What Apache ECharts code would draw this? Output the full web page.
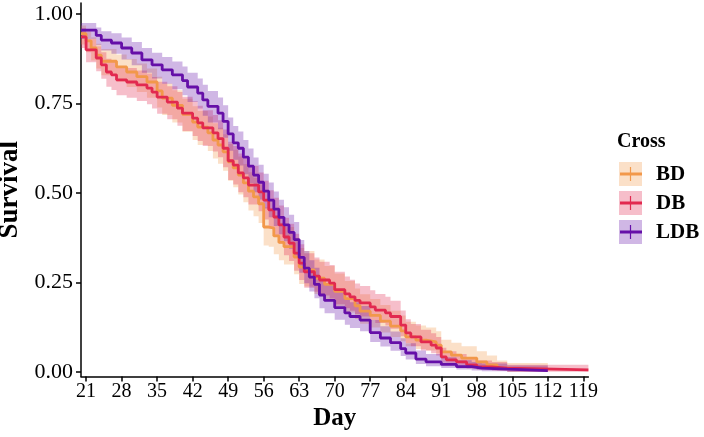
<!DOCTYPE html>
<html>
<head>
<meta charset="utf-8">
<script src="https://cdn.jsdelivr.net/npm/echarts@6/dist/echarts.min.js"></script>
<style>
  html, body { margin: 0; padding: 0; background: #fff; }
  #chart { width: 704px; height: 437px; }
</style>
</head>
<body>
<div id="chart"></div>
<script>
// tick labels
const xTicks = [21, 28, 35, 42, 49, 56, 63, 70, 77, 84, 91, 98, 105, 112, 119]
const yTicks = [0, 0.25, 0.5, 0.75, 1]
const groups = ['BD', 'DB', 'LDB']

// BD: event days, survival, lower / upper CI
const bdTime = [20, 21, 22, 23, 24, 27, 29, 31, 33, 35, 36, 38, 40, 42, 43, 45, 46, 47, 48, 49, 50, 51, 52, 53, 54, 55, 56, 57, 58, 59, 60, 62, 63, 64, 66, 68, 70, 72, 74, 75, 77, 79, 81, 83, 84, 86, 88, 90, 91, 93, 95, 98, 100, 102, 104, 112]
const bdSurv = [0.945, 0.925, 0.905, 0.885, 0.868, 0.852, 0.838, 0.825, 0.810, 0.785, 0.765, 0.745, 0.720, 0.698, 0.684, 0.668, 0.648, 0.634, 0.615, 0.587, 0.570, 0.550, 0.528, 0.505, 0.489, 0.470, 0.405, 0.402, 0.380, 0.362, 0.350, 0.321, 0.293, 0.285, 0.262, 0.245, 0.225, 0.205, 0.185, 0.170, 0.158, 0.142, 0.128, 0.115, 0.098, 0.089, 0.084, 0.075, 0.056, 0.047, 0.039, 0.028, 0.020, 0.011, 0.006, 0.006]
const bdLower = [0.915, 0.893, 0.870, 0.848, 0.829, 0.811, 0.796, 0.782, 0.766, 0.739, 0.718, 0.697, 0.671, 0.648, 0.634, 0.617, 0.596, 0.582, 0.562, 0.534, 0.516, 0.496, 0.474, 0.451, 0.435, 0.416, 0.353, 0.350, 0.329, 0.312, 0.300, 0.273, 0.246, 0.239, 0.218, 0.202, 0.184, 0.166, 0.148, 0.135, 0.124, 0.110, 0.098, 0.086, 0.072, 0.064, 0.060, 0.052, 0.037, 0.030, 0.024, 0.015, 0.010, 0.004, 0.001, 0.001]
const bdUpper = [0.968, 0.952, 0.935, 0.917, 0.902, 0.887, 0.874, 0.862, 0.848, 0.825, 0.806, 0.787, 0.763, 0.742, 0.729, 0.714, 0.695, 0.682, 0.664, 0.637, 0.621, 0.602, 0.581, 0.558, 0.542, 0.524, 0.460, 0.457, 0.435, 0.417, 0.405, 0.375, 0.346, 0.338, 0.314, 0.296, 0.275, 0.254, 0.233, 0.217, 0.204, 0.187, 0.171, 0.158, 0.140, 0.130, 0.124, 0.114, 0.090, 0.082, 0.072, 0.058, 0.046, 0.032, 0.025, 0.025]

// DB
const dbTime = [20, 21, 23, 24, 25, 26, 27, 29, 31, 33, 34, 35, 37, 39, 40, 42, 43, 44, 46, 47, 48, 49, 50, 51, 52, 53, 55, 56, 57, 58, 59, 60, 61, 62, 63, 64, 66, 67, 69, 70, 72, 73, 74, 75, 77, 78, 80, 81, 83, 84, 85, 87, 89, 90, 91, 92, 94, 96, 98, 101, 104, 120]
const dbSurv = [0.936, 0.900, 0.877, 0.858, 0.838, 0.830, 0.816, 0.810, 0.802, 0.793, 0.782, 0.768, 0.754, 0.737, 0.723, 0.709, 0.696, 0.682, 0.668, 0.652, 0.625, 0.590, 0.578, 0.556, 0.542, 0.522, 0.503, 0.480, 0.453, 0.433, 0.411, 0.377, 0.360, 0.332, 0.304, 0.280, 0.268, 0.257, 0.248, 0.230, 0.218, 0.210, 0.200, 0.193, 0.182, 0.173, 0.165, 0.155, 0.131, 0.109, 0.098, 0.084, 0.075, 0.067, 0.042, 0.034, 0.028, 0.020, 0.014, 0.011, 0.006, 0.006]
const dbLower = [0.905, 0.865, 0.840, 0.819, 0.797, 0.788, 0.773, 0.766, 0.757, 0.748, 0.736, 0.721, 0.706, 0.688, 0.673, 0.659, 0.645, 0.631, 0.616, 0.600, 0.572, 0.536, 0.524, 0.502, 0.488, 0.468, 0.449, 0.426, 0.400, 0.380, 0.359, 0.326, 0.310, 0.283, 0.257, 0.235, 0.224, 0.214, 0.205, 0.189, 0.178, 0.171, 0.162, 0.155, 0.145, 0.137, 0.130, 0.121, 0.100, 0.081, 0.072, 0.060, 0.052, 0.046, 0.026, 0.020, 0.016, 0.010, 0.006, 0.004, 0.001, 0.001]
const dbUpper = [0.960, 0.930, 0.910, 0.893, 0.875, 0.868, 0.855, 0.849, 0.842, 0.834, 0.824, 0.811, 0.798, 0.782, 0.769, 0.756, 0.744, 0.731, 0.718, 0.703, 0.677, 0.643, 0.631, 0.610, 0.596, 0.576, 0.557, 0.534, 0.508, 0.487, 0.465, 0.431, 0.414, 0.386, 0.357, 0.332, 0.320, 0.308, 0.299, 0.280, 0.267, 0.258, 0.247, 0.240, 0.228, 0.218, 0.210, 0.199, 0.172, 0.147, 0.134, 0.118, 0.108, 0.098, 0.068, 0.058, 0.050, 0.040, 0.032, 0.028, 0.020, 0.020]

// LDB
const ldbTime = [20, 23, 24, 26, 28, 30, 32, 34, 36, 38, 40, 41, 43, 44, 45, 47, 48, 49, 50, 51, 52, 53, 54, 55, 56, 57, 58, 59, 60, 61, 62, 63, 64, 65, 66, 67, 68, 70, 72, 73, 75, 77, 79, 81, 83, 84, 86, 88, 91, 94, 97, 99, 104, 112]
const ldbSurv = [0.955, 0.940, 0.927, 0.919, 0.905, 0.891, 0.872, 0.858, 0.844, 0.830, 0.814, 0.796, 0.779, 0.760, 0.742, 0.723, 0.700, 0.665, 0.640, 0.625, 0.600, 0.575, 0.550, 0.530, 0.505, 0.480, 0.455, 0.432, 0.411, 0.390, 0.370, 0.320, 0.290, 0.265, 0.245, 0.215, 0.200, 0.180, 0.165, 0.155, 0.145, 0.110, 0.095, 0.082, 0.065, 0.053, 0.036, 0.028, 0.021, 0.015, 0.011, 0.008, 0.004, 0.004]
const ldbLower = [0.930, 0.913, 0.898, 0.889, 0.873, 0.857, 0.836, 0.820, 0.805, 0.790, 0.773, 0.754, 0.736, 0.716, 0.697, 0.678, 0.654, 0.618, 0.593, 0.577, 0.552, 0.527, 0.502, 0.482, 0.457, 0.432, 0.408, 0.385, 0.365, 0.344, 0.325, 0.277, 0.248, 0.225, 0.206, 0.178, 0.164, 0.146, 0.132, 0.123, 0.114, 0.084, 0.071, 0.059, 0.045, 0.035, 0.022, 0.016, 0.011, 0.007, 0.004, 0.002, 0.001, 0.001]
const ldbUpper = [0.975, 0.962, 0.952, 0.946, 0.934, 0.922, 0.905, 0.892, 0.880, 0.867, 0.853, 0.836, 0.820, 0.802, 0.785, 0.767, 0.745, 0.711, 0.687, 0.672, 0.648, 0.624, 0.599, 0.579, 0.554, 0.529, 0.504, 0.481, 0.460, 0.439, 0.419, 0.369, 0.338, 0.312, 0.291, 0.260, 0.244, 0.223, 0.206, 0.195, 0.184, 0.145, 0.128, 0.113, 0.094, 0.080, 0.060, 0.050, 0.041, 0.033, 0.028, 0.024, 0.018, 0.018]

const lineColors = ['#F2984A', '#E2294F', '#650FA8']
const bandOpacity = 0.3
const FONT = "'Liberation Serif', 'Times New Roman', serif"

const curves = [
  { name: 'BD', time: bdTime, surv: bdSurv, lower: bdLower, upper: bdUpper },
  { name: 'DB', time: dbTime, surv: dbSurv, lower: dbLower, upper: dbUpper },
  { name: 'LDB', time: ldbTime, surv: ldbSurv, lower: ldbLower, upper: ldbUpper }
]

// step-shaped ribbon polygon, mapped through the axes
function bandRenderer(c, color) {
  return function (params, api) {
    const top = []
    const bot = []
    for (let i = 0; i < c.time.length; i++) {
      const x0 = c.time[i]
      const x1 = i + 1 < c.time.length ? c.time[i + 1] : c.time[i]
      top.push(api.coord([x0, c.upper[i]]), api.coord([x1, c.upper[i]]))
      bot.push(api.coord([x0, c.lower[i]]), api.coord([x1, c.lower[i]]))
    }
    return {
      type: 'polygon',
      silent: true,
      shape: { points: top.concat(bot.reverse()) },
      style: { fill: color, opacity: bandOpacity }
    }
  }
}

const series = []
curves.forEach((c, i) => {
  series.push({
    name: c.name + '-band',
    type: 'custom',
    z: 1,
    silent: true,
    data: [[c.time[0], c.surv[0]]],
    renderItem: bandRenderer(c, lineColors[i])
  })
})
curves.forEach((c, i) => {
  series.push({
    name: c.name,
    type: 'line',
    z: 3,
    step: 'end',
    showSymbol: false,
    silent: true,
    data: c.time.map((t, k) => [t, c.surv[k]]),
    lineStyle: { color: lineColors[i], width: 2.8 }
  })
})

// legend drawn by hand (ribbon square + line + censor tick)
const legendGraphics = [{
  type: 'text', left: 617, top: 132,
  style: { text: 'Cross', font: 'bold 20px ' + FONT, fill: '#000' }
}]
groups.forEach((g, i) => {
  const y0 = 162 + i * 29
  legendGraphics.push(
    { type: 'rect', shape: { x: 619, y: y0, width: 23, height: 24 }, style: { fill: lineColors[i], opacity: bandOpacity } },
    { type: 'line', shape: { x1: 620, y1: y0 + 12, x2: 642, y2: y0 + 12 }, style: { stroke: lineColors[i], lineWidth: 3 } },
    { type: 'line', shape: { x1: 630.5, y1: y0 + 5, x2: 630.5, y2: y0 + 19 }, style: { stroke: lineColors[i], lineWidth: 1.2 } },
    { type: 'text', left: 656, top: y0 + 2, style: { text: g, font: 'bold 21px ' + FONT, fill: '#000' } }
  )
})

const chart = echarts.init(document.getElementById('chart'), null, { renderer: 'canvas' })
chart.setOption({
  animation: false,
  backgroundColor: '#fff',
  grid: { left: 81, right: 115.6, top: 3, bottom: 60.5, outerBoundsMode: 'none', containLabel: false },
  xAxis: {
    type: 'value',
    min: 20,
    max: 120,
    name: 'Day',
    nameLocation: 'middle',
    nameGap: 30,
    nameTextStyle: { fontFamily: FONT, fontWeight: 'bold', fontSize: 25, color: '#000' },
    axisLine: { onZero: false, lineStyle: { color: '#000', width: 1.5 } },
    axisTick: { customValues: xTicks, length: 5, lineStyle: { color: '#000', width: 1.5 } },
    axisLabel: { customValues: xTicks, margin: 5, fontFamily: FONT, fontSize: 20, color: '#000' },
    splitLine: { show: false }
  },
  yAxis: {
    type: 'value',
    min: -0.0126,
    max: 1.0307,
    name: 'Survival',
    nameLocation: 'middle',
    nameGap: 54,
    nameTextStyle: { fontFamily: FONT, fontWeight: 'bold', fontSize: 27, color: '#000' },
    axisLine: { onZero: false, lineStyle: { color: '#000', width: 1.5 } },
    axisTick: { customValues: yTicks, length: 5, lineStyle: { color: '#000', width: 1.5 } },
    axisLabel: {
      customValues: yTicks,
      margin: 8,
      fontFamily: FONT,
      fontSize: 22,
      color: '#000',
      formatter: v => v.toFixed(2)
    },
    splitLine: { show: false }
  },
  graphic: legendGraphics,
  series: series
})
</script>
</body>
</html>
